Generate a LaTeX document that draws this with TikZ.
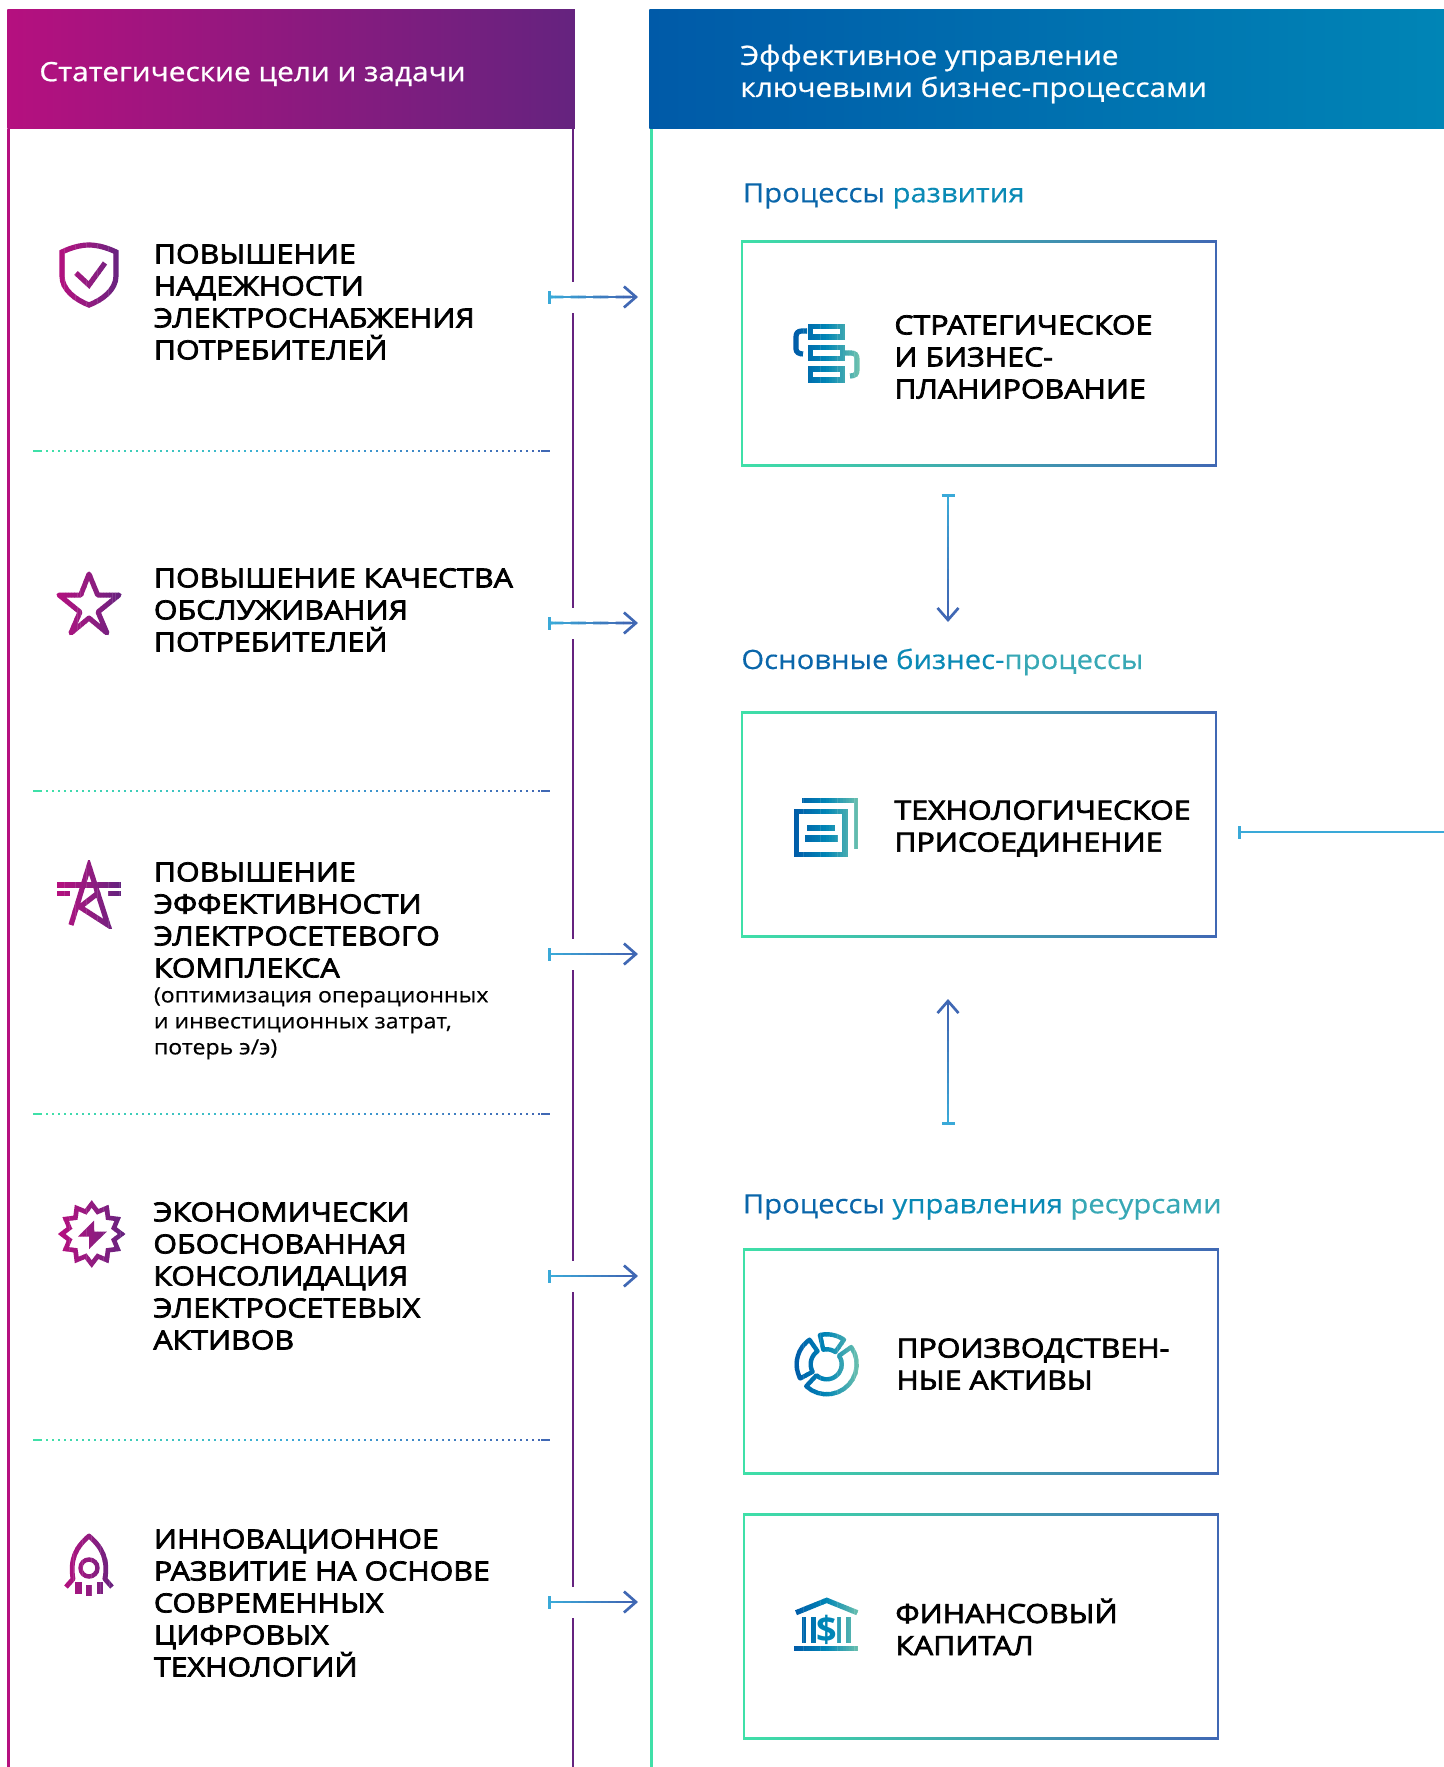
\documentclass[tikz,border=0pt]{standalone}
\usepackage{fontspec}
\setmainfont{Open Sans}
\newfontfamily\headfont[FakeStretch=1.12,FakeBold=.8]{Open Sans}
\newfontfamily\itemfont[FakeStretch=1.15,FakeBold=2.8]{Open Sans}
\newfontfamily\notefont[FakeStretch=1.1,FakeBold=.4]{Open Sans}
\usetikzlibrary{arrows.meta,calc}
\definecolor{goala}{HTML}{B5107F}
\definecolor{goalm}{HTML}{931C80}
\definecolor{goalb}{HTML}{65237F}
\definecolor{proca}{HTML}{005AA8}
\definecolor{procm}{HTML}{0085B6}
\definecolor{procb}{HTML}{6BC0AE}
\definecolor{framea}{HTML}{3FE0A8}
\definecolor{framem}{HTML}{3AA9D8}
\definecolor{frameb}{HTML}{4068B4}
\definecolor{inka}{HTML}{0A66AA}
\definecolor{inkm}{HTML}{0A8AB5}
\definecolor{inkb}{HTML}{38A8B5}
\tikzset{
  headbar/.style={anchor=north west,minimum height=59.7pt,inner sep=0pt},
  headtext/.style={anchor=west,align=left,text=white,inner sep=0pt,font=\headfont\fontsize{13.3}{16}\selectfont},
  itemtext/.style={anchor=west,align=left,inner sep=0pt,text=black,font=\itemfont\fontsize{13.2}{16}\selectfont},
  sectext/.style={anchor=west,inner sep=0pt,font=\notefont\fontsize{13.3}{16}\selectfont},
  flowbox/.style={anchor=north west,minimum width=237.5pt,minimum height=113pt,inner sep=0pt},
  flowline/.style={line width=1.35pt},
  iconline/.style={line width=2.2pt,line join=round,line cap=round},
  iconsharp/.style={line width=2.6pt,line join=miter},
}
% one drawing, cut in vertical slices which change colour from left to right
\newcommand{\gradpaint}[8]{%
  \foreach \i in {0,...,23}{%
    \pgfmathsetmacro\slicex{#1+(#2-#1)*\i/24}
    \pgfmathsetmacro\slicew{(#2-#1)/24+.4}
    \pgfmathsetmacro\pcta{min(100,100*\i/11.5)}
    \pgfmathsetmacro\pctb{max(0,100*(\i-11.5)/11.5)}
    \colorlet{slicecol}{#6!\pcta!#5}
    \colorlet{slicecol}{#7!\pctb!slicecol}
    \begin{scope}[color=slicecol]
      \clip (\slicex,#3) rectangle (\slicex+\slicew,#4);
      #8
    \end{scope}
  }}
\newcommand{\gradarrow}[4]{%
  \foreach \i in {1,...,11}{%
    \pgfmathsetmacro\pct{100*(\i-1)/10}
    \colorlet{segcol}{#4!\pct!#3}
    \draw[flowline,segcol] ($(#1)!{(\i-1)/12}!(#2)$) -- ($(#1)!{\i/12+.005}!(#2)$);
  }
  \draw[flowline,#3,{Bar[width=6.5pt,line width=1.35pt]}-] (#1) -- ($(#1)!.05!(#2)$);
  \draw[flowline,#4,-{Straight Barb[length=6pt,width=10.5pt]}] ($(#1)!.9!(#2)$) -- (#2);
}
\newcommand{\gradframe}[1]{%
  \shade[left color=framea,middle color=framem,right color=frameb] (#1.north west) rectangle ([yshift=-1.05pt]#1.north east);
  \shade[left color=framea,middle color=framem,right color=frameb] (#1.south west) rectangle ([yshift=1.05pt]#1.south east);
  \fill[framea] (#1.north west) rectangle ([xshift=1.05pt]#1.south west);
  \fill[frameb] (#1.north east) rectangle ([xshift=-1.05pt]#1.south east);
}
\newcommand{\donutpiece}[4]{%
  \draw[iconline] plot[domain=#1:#2,samples=14] ({826.7+#3*cos(\x)},{1364.3-#3*sin(\x)})
    -- plot[domain=#2:#1,samples=14] ({826.7+#4*cos(\x)},{1364.3-#4*sin(\x)}) -- cycle;
}
\begin{document}
\begin{tikzpicture}[x=.5pt,y=-.5pt]
  \useasboundingbox (0,0) rectangle (1444,1767);
  % the two columns
  \fill[goala] (7,129) rectangle (10,1767);
  \draw[line width=1.5pt,framea] (651,129) -- (651,1767);
  \draw[line width=1.2pt,goalb] (573,129) -- (573,282) (573,313) -- (573,608) (573,639) -- (573,939)
     (573,970) -- (573,1261) (573,1292) -- (573,1587) (573,1618) -- (573,1767);
  \node (goalhead) [headbar,minimum width=283.7pt,left color=goala,middle color=goalm,right color=goalb] at (7,9) {};
  \node (prochead) [headbar,minimum width=397.5pt,left color=proca,right color=procm] at (649,9) {};
  \node (goaltitle) [headtext] at (39,74) {Статегические цели и задачи};
  \node (proctitle) [headtext] at (740,74) {Эффективное управление\\ключевыми бизнес-процессами};
  % goals
  \node (goalone) [itemtext] at (153.5,302) {ПОВЫШЕНИЕ\\НАДЕЖНОСТИ\\ЭЛЕКТРОСНАБЖЕНИЯ\\ПОТРЕБИТЕЛЕЙ};
  \node (goaltwo) [itemtext] at (153.5,610) {ПОВЫШЕНИЕ КАЧЕСТВА\\ОБСЛУЖИВАНИЯ\\ПОТРЕБИТЕЛЕЙ};
  \node (goalthree) [itemtext] at (153.5,920) {ПОВЫШЕНИЕ\\ЭФФЕКТИВНОСТИ\\ЭЛЕКТРОСЕТЕВОГО\\КОМПЛЕКСА};
  \node (goalnote) [anchor=north west,align=left,inner sep=0pt,font=\notefont\fontsize{10.5}{13}\selectfont] at (153.5,987) {(оптимизация операционных\\и инвестиционных затрат,\\потерь э/э)};
  \node (goalfour) [itemtext] at (153,1276) {ЭКОНОМИЧЕСКИ\\ОБОСНОВАННАЯ\\КОНСОЛИДАЦИЯ\\ЭЛЕКТРОСЕТЕВЫХ\\АКТИВОВ};
  \node (goalfive) [itemtext] at (153.5,1603) {ИННОВАЦИОННОЕ\\РАЗВИТИЕ НА ОСНОВЕ\\СОВРЕМЕННЫХ\\ЦИФРОВЫХ\\ТЕХНОЛОГИЙ};
  % dotted rules
  \foreach \y/\n in {451/a,791/b,1114/c,1440/d}{
    \coordinate (rule\n l) at (33,\y);
    \coordinate (rule\n m) at (40,\y);
    \coordinate (rule\n k) at (541,\y);
    \coordinate (rule\n r) at (550,\y);
    \gradpaint{33}{550}{\y-3}{\y+3}{framea}{framem}{frameb}{
      \draw[line width=1pt,dash pattern=on 1pt off 2pt] (rule\n m) -- (rule\n k);
      \draw[line width=1pt] (rule\n l) -- (rule\n m) (rule\n k) -- (rule\n r);
    }
  }
  % arrows out of the goals
  \foreach \y/\n in {297/a,623/b,954/c,1276/d,1602/e}{
    \coordinate (goalout\n) at (548,\y);
    \coordinate (procin\n) at (638,\y);
    \gradarrow{goalout\n}{procin\n}{framem}{frameb}
  }
  % goal icons
  \gradpaint{56}{122}{240}{310}{goala}{goalm}{goalb}{
    \draw[iconsharp] (89,245) .. controls (80,245) and (70,248) .. (62,252) -- (62,276)
       .. controls (62,290) and (76,300) .. (89,305) .. controls (102,300) and (116,290) .. (116,276)
       -- (116,252) .. controls (108,248) and (98,245) .. (89,245) -- cycle;
    \draw[iconsharp] (76,273) -- (89,285) -- (105,263);
  }
  \gradpaint{54}{124}{568}{638}{goala}{goalm}{goalb}{
    \draw[iconline,line width=2.5pt] (89,574) -- (97.7,595) -- (119,595) -- (98,612) -- (107,633) -- (89,618) -- (71,633) -- (80,612) -- (59,595) -- (80.7,595) -- cycle;
  }
  \gradpaint{56}{122}{860}{928}{goala}{goalm}{goalb}{
    \draw[iconsharp] (71,925) -- (89,866) -- (108,925) -- (80,907) -- (98,893);
    \fill (57,882) rectangle (121,888);
    \fill (57,891) rectangle (70,896);
    \fill (108,891) rectangle (121,896);
  }
  \gradpaint{58}{126}{1198}{1270}{goala}{goalm}{goalb}{
    \draw[iconsharp,line width=2.3pt] plot[domain=0:24,samples=25] ({91.7+(26.5+3.5*cos(180*\x))*cos(15*\x)},{1234+(26.5+3.5*cos(180*\x))*sin(15*\x)}) -- cycle;
    \fill (94,1220.7) -- (78,1236.7) -- (89,1236.7) -- (89,1249) -- (106.7,1231.7) -- (94.3,1231.7) -- cycle;
  }
  \gradpaint{62}{116}{1530}{1600}{goala}{goalm}{goalb}{
    \draw[iconline,line cap=butt,line width=2.4pt] (66,1587) -- (73,1579) .. controls (70,1560) and (75,1548) .. (89,1536)
      .. controls (103,1548) and (108,1560) .. (105,1579) -- (112,1587);
    \draw[line width=2.2pt] (89,1568) circle[radius=8.5];
    \fill (75,1581.7) rectangle (81.7,1594);
    \fill (86,1585) rectangle (92,1596);
    \fill (97,1581.7) rectangle (103,1594);
  }
  % process sections
  \node (secdev) [sectext] at (742.5,196) {\textcolor{inka}{Процессы} \textcolor{inkm}{развития}};
  \node (secmain) [sectext] at (741,662) {\textcolor{inka}{Основные} \textcolor{inkm}{бизнес-}\textcolor{inkb}{процессы}};
  \node (secres) [sectext] at (742.5,1207) {\textcolor{inka}{Процессы} \textcolor{inkm}{управления} \textcolor{inkb}{ресурсами}};
  \node (boxplan) [flowbox] at (741,240) {};
  \node (boxtech) [flowbox] at (741,711) {};
  \node (boxasset) [flowbox] at (743,1248) {};
  \node (boxmoney) [flowbox] at (743,1513) {};
  \foreach \n in {boxplan,boxtech,boxasset,boxmoney}{\gradframe{\n}}
  \node (textplan) [itemtext] at (894,357) {СТРАТЕГИЧЕСКОЕ\\И БИЗНЕС-\\ПЛАНИРОВАНИЕ};
  \node (texttech) [itemtext] at (894,828.5) {ТЕХНОЛОГИЧЕСКОЕ\\ПРИСОЕДИНЕНИЕ};
  \node (textasset) [itemtext] at (896,1364) {ПРОИЗВОДСТВЕН-\\НЫЕ АКТИВЫ};
  \node (textmoney) [itemtext] at (895,1627) {ФИНАНСОВЫЙ\\КАПИТАЛ};
  % arrows between the sections
  \coordinate (planout) at (948,494);
  \coordinate (mainin) at (948,622);
  \coordinate (resout) at (948,1125);
  \coordinate (mainback) at (948,999);
  \coordinate (techin) at (1238,832);
  \coordinate (techfar) at (1444,832);
  \gradarrow{planout}{mainin}{framem}{frameb}
  \gradarrow{resout}{mainback}{framem}{frameb}
  \draw[flowline,{Bar[width=6.5pt,line width=1.35pt]}-,framem] (techin) -- (techfar);
  % process icons
  \gradpaint{792}{860}{320}{386}{proca}{procm}{procb}{
    \draw[iconsharp] (810.3,326.3) rectangle (842.7,337);
    \draw[iconsharp] (810.3,347.6) rectangle (842.7,358.4);
    \draw[iconsharp] (810.3,369) rectangle (842.7,380);
    \draw[iconsharp] (807,331) -- (802,331) .. controls (798,331) and (796,333) .. (796,337) -- (796,349) .. controls (796,352) and (799,354) .. (803,354);
    \draw[iconsharp] (845,353) -- (851,353) .. controls (855,353) and (857,355) .. (857,359) -- (857,370) .. controls (857,374) and (855,376) .. (850,376);
  }
  \gradpaint{792}{860}{796}{860}{proca}{procm}{procb}{
    \draw[line width=2.6pt] (796.6,811.6) rectangle (845,854.4);
    \draw[line width=2.4pt] (802.3,800.7) -- (856,800.7) -- (856,849);
    \fill (806.7,825) rectangle (835,830.7);
    \fill (805,835) rectangle (838,842);
  }
  \gradpaint{792}{860}{1328}{1400}{proca}{procm}{procb}{
    \donutpiece{55}{103}{30}{15}
    \donutpiece{125}{208}{30}{16}
    \donutpiece{-133}{35}{30}{15}
  }
  \gradpaint{792}{860}{1596}{1654}{proca}{procm}{procb}{
    \draw[line width=2.6pt] (796,1612.7) -- (826.7,1600.3) -- (857.3,1612.7);
    \draw[line width=2.3pt] (804,1617) -- (804,1643) (813.7,1617) -- (813.7,1643) (839,1617) -- (839,1643) (848.3,1617) -- (848.3,1643);
    \fill (794,1646) rectangle (858,1651);
  }
  \node (banksign) [inner sep=0pt,text=procm,font=\bfseries\fontsize{18}{18}\selectfont] at (826.7,1630) {\$};
\end{tikzpicture}
\end{document}
